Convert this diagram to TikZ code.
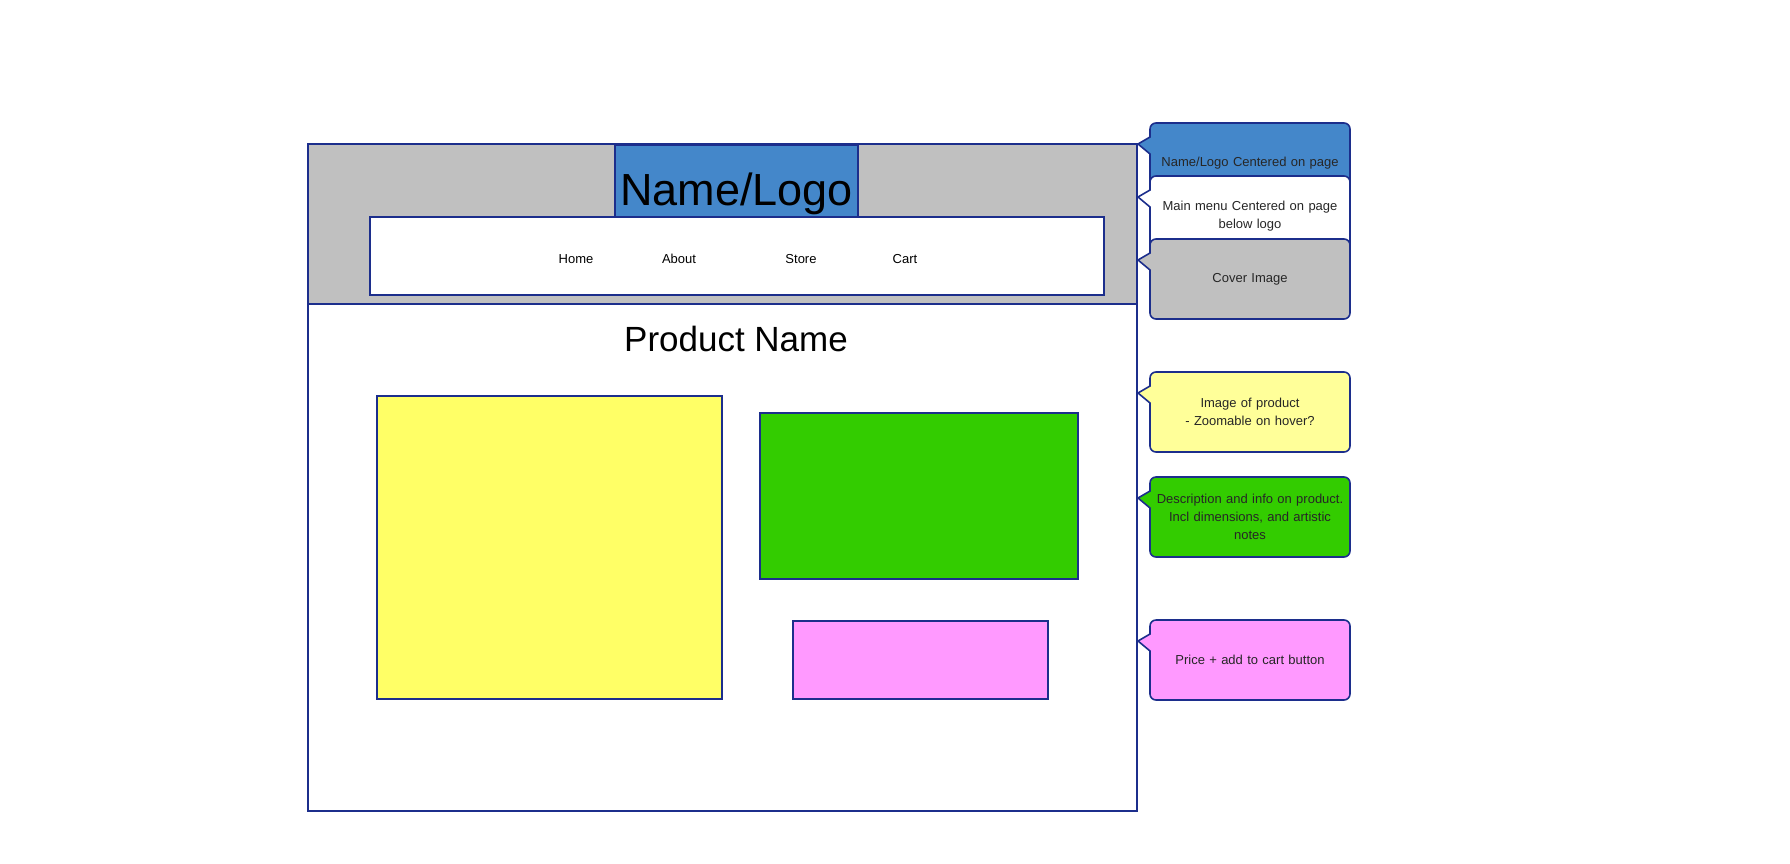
\documentclass[tikz,border=0pt]{standalone}
\usepackage{fontspec}
\setmainfont{Liberation Sans}
\definecolor{edge}{HTML}{1C2E8C}
\definecolor{logoblue}{HTML}{4487CA}
\definecolor{covergray}{HTML}{C0C0C0}
\definecolor{imgyellow}{HTML}{FFFF66}
\definecolor{noteyellow}{HTML}{FFFF99}
\definecolor{descgreen}{HTML}{33CC00}
\definecolor{pricepink}{HTML}{FF99FF}

% speech-bubble note: name, top edge, fill, text
\newcommand\callout[4]{%
  \path[note,fill=#3] (1138,#2+21) -- (1150,#2+31) [rounded corners=6pt]
    -- (1150,#2+80) -- (1350,#2+80) -- (1350,#2) -- (1150,#2)
    [sharp corners] -- (1150,#2+14) -- cycle;
  \node[notetext] (#1) at (1250,#2+40) {#4};}

\begin{document}
\begin{tikzpicture}[
  x=1pt,y=-1pt,
  box/.style={draw=edge,line width=1.6pt,inner sep=0pt,outer sep=0pt},
  note/.style={draw=edge,line width=1.6pt},
  notetext/.style={align=center,font=\fontsize{13}{18}\selectfont,text width=190pt,text=black!85},
  menuitem/.style={font=\fontsize{13}{16}\selectfont}
]
  \useasboundingbox[fill=white] (0,0) rectangle (1790,863);

  % page frame
  \node[box,fill=covergray,minimum width=829pt,minimum height=160pt]
    (header) at (722.5,224) {};
  \node[box,fill=white,minimum width=829pt,minimum height=507pt]
    (body) at (722.5,557.5) {};

  \node[box,fill=logoblue,minimum width=243pt,minimum height=72pt]
    (logo) at (736.5,181) {};
  \node[font=\fontsize{45}{50}\selectfont] (logotext) at (736.5,194) {Name/Logo};

  \node[box,fill=white,minimum width=734pt,minimum height=78pt]
    (menu) at (737,256) {};
  \node[menuitem] (home) at (576,259) {Home};
  \node[menuitem] (about) at (679,259) {About};
  \node[menuitem] (store) at (801,259) {Store};
  \node[menuitem] (cart) at (905,259) {Cart};

  \node[font=\fontsize{35}{40}\selectfont] (pname) at (736,339) {Product Name};

  \node[box,fill=imgyellow,minimum width=345pt,minimum height=303pt]
    (image) at (549.5,547.5) {};
  \node[box,fill=descgreen,minimum width=318pt,minimum height=166pt]
    (desc) at (919,496) {};
  \node[box,fill=pricepink,minimum width=255pt,minimum height=78pt]
    (price) at (920.5,660) {};

  % notes
  \callout{nlogo}{123}{logoblue}{Name/Logo Centered on page}
  \callout{nmenu}{176}{white}{Main menu Centered on page\\below logo}
  \callout{ncover}{239}{covergray}{Cover Image}
  \callout{nimage}{372}{noteyellow}{Image of product\\- Zoomable on hover?}
  \callout{ndesc}{477}{descgreen}{Description and info on product.\\Incl dimensions, and artistic\\notes}
  \callout{nprice}{620}{pricepink}{Price + add to cart button}
\end{tikzpicture}
\end{document}
